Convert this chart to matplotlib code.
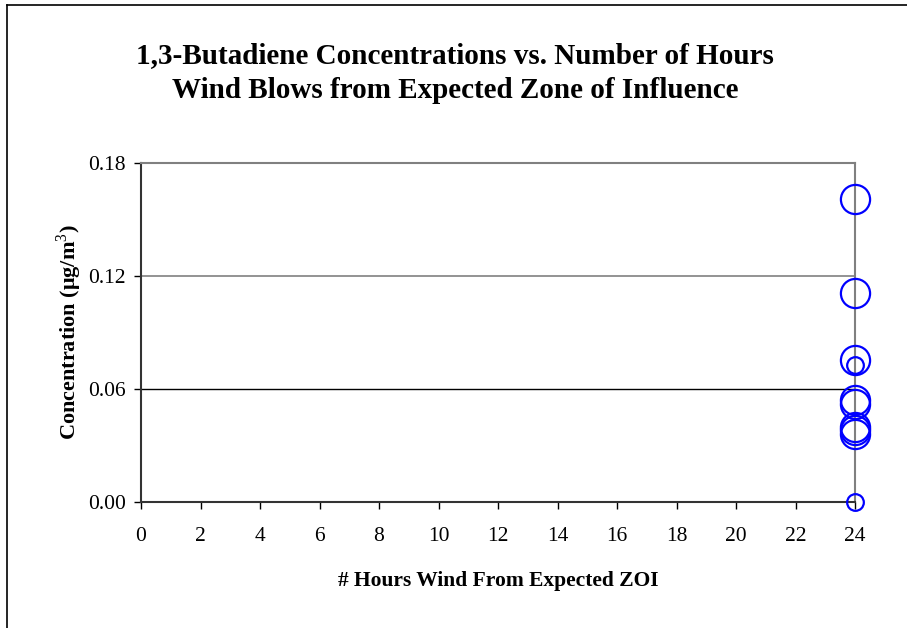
import matplotlib
matplotlib.use("Agg")
import matplotlib.pyplot as plt
from matplotlib.lines import Line2D

plt.rcParams['font.family'] = ['Liberation Serif', 'DejaVu Serif']
plt.rcParams['mathtext.fontset'] = 'custom'
plt.rcParams['mathtext.rm'] = 'Liberation Serif'
plt.rcParams['mathtext.bf'] = 'Liberation Serif:bold'

# Data
hours_large = [24, 24, 24, 24, 24, 24, 24, 24]
conc_large = [0.161, 0.111, 0.0755, 0.054, 0.052, 0.040, 0.038, 0.036]
hours_small = [24, 24]
conc_small = [0.073, 0.0]

xticks = list(range(0, 25, 2))
yticks = [0.00, 0.06, 0.12, 0.18]

W, H = 907, 628
fig = plt.figure(figsize=(W / 100, H / 100), dpi=100)

# axes position in pixels
left, right, top, bottom = 141, 855, 163, 502
ax = fig.add_axes([left / W, 1 - bottom / H, (right - left) / W, (bottom - top) / H])

ax.set_xlim(0, 24)
ax.set_ylim(0, 0.18)

# gridlines
ax.axhline(0.12, color='#808080', lw=1.2, zorder=1)
ax.axhline(0.06, color='black', lw=1.0, zorder=1)

ax.plot(hours_large, conc_large, linestyle='none', marker='o', markersize=21,
        markerfacecolor='none', markeredgecolor='#0000FF', markeredgewidth=1.6,
        zorder=3, clip_on=False)
ax.plot(hours_small, conc_small, linestyle='none', marker='o', markersize=12,
        markerfacecolor='none', markeredgecolor='#0000FF', markeredgewidth=1.6,
        zorder=3, clip_on=False)

for s in ['top', 'right']:
    ax.spines[s].set_color('#808080')
    ax.spines[s].set_linewidth(1.5)
for s in ['left', 'bottom']:
    ax.spines[s].set_color('#333333')
    ax.spines[s].set_linewidth(1.5)

ax.set_xticks(xticks)
ax.set_xticklabels([str(t) for t in xticks])
ax.set_yticks(yticks)
ax.set_yticklabels([f"{t:.2f}" for t in yticks])
ax.tick_params(axis='both', direction='out', length=5, width=1, labelsize=15.5,
               colors='black')
ax.tick_params(axis='x', pad=13)
ax.tick_params(axis='y', pad=6)

ax.set_xlabel('# Hours Wind From Expected ZOI', fontsize=15.5, fontweight='bold',
              labelpad=18)
ax.set_ylabel(r'Concentration ($\mathbf{\mu}$g/m$^{\mathrm{3}}$)', fontsize=16,
              fontweight='bold', labelpad=3)

fig.text(455 / W, 1 - 73 / H,
         '1,3-Butadiene Concentrations vs. Number of Hours\nWind Blows from Expected Zone of Influence',
         ha='center', va='center', fontsize=21, fontweight='bold', linespacing=1.4)

# figure border (left & top)
fig.add_artist(Line2D([7 / W, 7 / W], [0, 1 - 5 / H], transform=fig.transFigure,
                      color='black', lw=1.2))
fig.add_artist(Line2D([7 / W, 1], [1 - 5 / H, 1 - 5 / H], transform=fig.transFigure,
                      color='black', lw=1.2))

fig.savefig('out.png', dpi=100)
